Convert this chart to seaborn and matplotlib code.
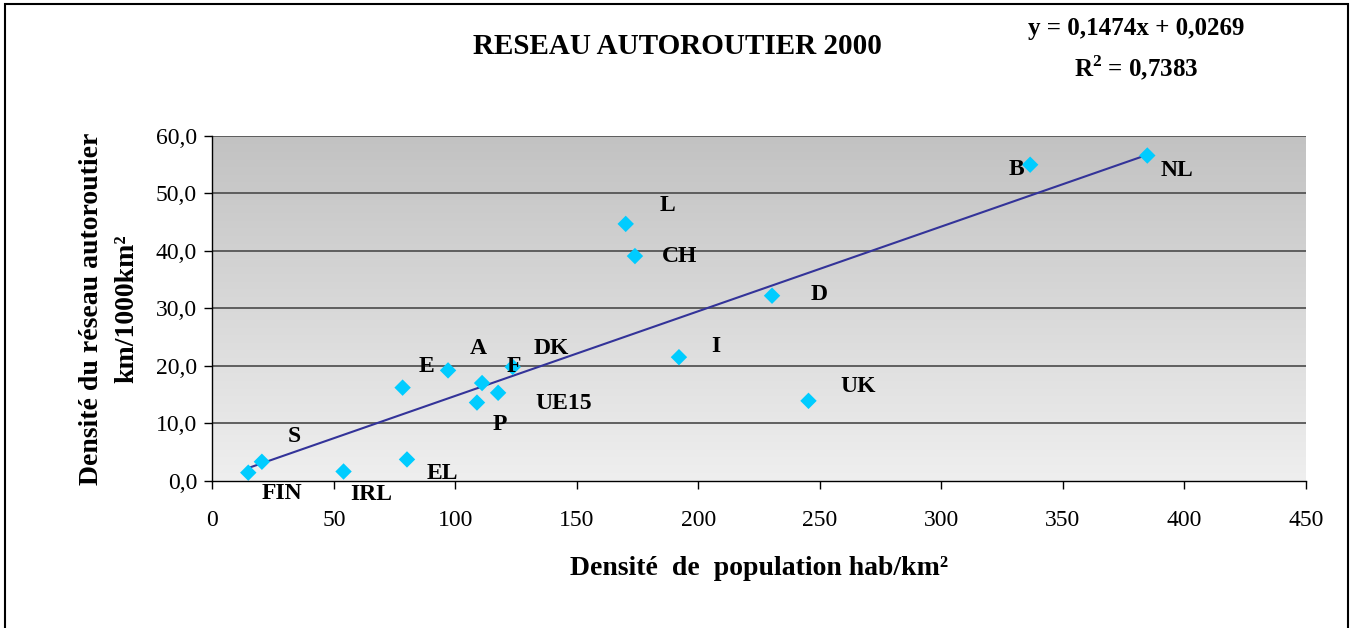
import numpy as np
import pandas as pd
import matplotlib
matplotlib.use("Agg")
import matplotlib.pyplot as plt
import seaborn as sns
from matplotlib.patches import Rectangle
from matplotlib.colors import LinearSegmentedColormap

# ---- data ----
pays = ["FIN", "S", "IRL", "E", "EL", "A", "F", "P", "UE15", "DK",
        "L", "CH", "I", "D", "UK", "B", "NL"]
densite_pop = [14.8, 20.4, 54.0, 78.3, 80.1, 97.0, 111.0, 108.9, 117.6, 123.6,
               170.1, 173.9, 192.0, 230.3, 245.3, 336.5, 384.7]
densite_autoroute = [1.4, 3.3, 1.6, 16.2, 3.7, 19.2, 17.0, 13.6, 15.3, 19.8,
                     44.7, 39.1, 21.5, 32.2, 13.9, 55.0, 56.6]
pente = 0.1474
ordonnee = 0.0269
r2 = 0.7383
x_ticks = [0, 50, 100, 150, 200, 250, 300, 350, 400, 450]
y_ticks = [0, 10, 20, 30, 40, 50, 60]

# label offsets in pixels (dx right, dy down)
label_offsets = {
    "FIN": (34, 21), "S": (32, -25), "IRL": (28, 23), "E": (24, -21),
    "EL": (35, 14), "A": (30, -22), "F": (32, -17), "P": (23, 22),
    "UE15": (66, 11), "DK": (39, -18), "L": (42, -18), "CH": (45, 0),
    "D": (47, -1), "I": (37, -11), "UK": (50, -14), "B": (-14, 5),
    "NL": (30, 15),
}

df = pd.DataFrame({"pays": pays, "x": densite_pop, "y": densite_autoroute})

sns.set_theme(style="white")
plt.rcParams["font.family"] = ["Liberation Serif", "DejaVu Serif"]
plt.rcParams["text.color"] = "black"
plt.rcParams["axes.labelcolor"] = "black"
plt.rcParams["xtick.color"] = "black"
plt.rcParams["ytick.color"] = "black"
plt.rcParams["mathtext.fontset"] = "custom"
plt.rcParams["mathtext.rm"] = "Liberation Serif"
plt.rcParams["mathtext.bf"] = "Liberation Serif:bold"

fig = plt.figure(figsize=(13.55, 6.28), dpi=100)
ax = fig.add_axes([212.3 / 1355, (628 - 480.7) / 628, (1306 - 212.3) / 1355, (480.7 - 136) / 628])

# gradient background
grad = np.linspace(0, 1, 256).reshape(-1, 1)
cmap = LinearSegmentedColormap.from_list("g", ["#efefef", "#c2c2c2"])
ax.imshow(grad, extent=[0, 1, 0, 1], transform=ax.transAxes, origin="lower",
          aspect="auto", cmap=cmap, zorder=0)

ax.set_xlim(0, 450)
ax.set_ylim(0, 60)
for yv in y_ticks[1:]:
    ax.axhline(yv, color="#555555", lw=1.3, zorder=1)

# trend line
xs = np.array([min(densite_pop), max(densite_pop)])
ax.plot(xs, pente * xs + ordonnee, color="#333399", lw=1.5, zorder=2)

sns.scatterplot(data=df, x="x", y="y", ax=ax, marker="D", s=70,
                color="#00ccff", edgecolor="none", zorder=3, legend=False)

for name, xv, yv in zip(pays, densite_pop, densite_autoroute):
    dx, dy = label_offsets[name]
    ax.annotate(name, (xv, yv), xytext=(dx, -dy), textcoords="offset pixels",
                ha="center", va="center", fontsize=17, fontweight="bold",
                color="black", zorder=5)

ax.set_xticks(x_ticks)
ax.set_xticklabels([str(v) for v in x_ticks])
ax.set_yticks(y_ticks)
ax.set_yticklabels([f"{v:.1f}".replace(".", ",") for v in y_ticks])
ax.tick_params(axis="both", which="major", labelsize=17, direction="out",
               length=6, width=1, color="black", labelcolor="black",
               bottom=True, left=True)
ax.tick_params(axis="x", pad=15)
ax.tick_params(axis="y", pad=5)
for side in ["top", "right"]:
    ax.spines[side].set_visible(False)
for side in ["left", "bottom"]:
    ax.spines[side].set_color("black")
    ax.spines[side].set_linewidth(1.0)
    ax.spines[side].set_zorder(4)

ax.set_xlabel("Densité  de  population hab/km²", fontsize=20, fontweight="bold",
              labelpad=18)
ax.set_ylabel("Densité du réseau autoroutier\nkm/1000km²", fontsize=20,
              fontweight="bold", labelpad=12, linespacing=1.55)

fig.text(0.5, 1 - 47 / 628, "RESEAU AUTOROUTIER 2000", ha="center", va="center",
         fontsize=21, fontweight="bold")
fig.text(1136 / 1355, 1 - 29 / 628, "y = 0,1474x + 0,0269", ha="center",
         va="center", fontsize=18, fontweight="bold")
fig.text(1136 / 1355, 1 - 68 / 628, r"R$^{\mathbf{2}}$ = 0,7383", ha="center",
         va="center", fontsize=18, fontweight="bold")

# chart border
fig.patches.append(Rectangle((4.5 / 1355, -0.05), (1347.5 - 4.5) / 1355,
                             1.05 - 4.5 / 628, transform=fig.transFigure,
                             fill=False, edgecolor="black", lw=1.5))

fig.savefig("out.png", dpi=100)
